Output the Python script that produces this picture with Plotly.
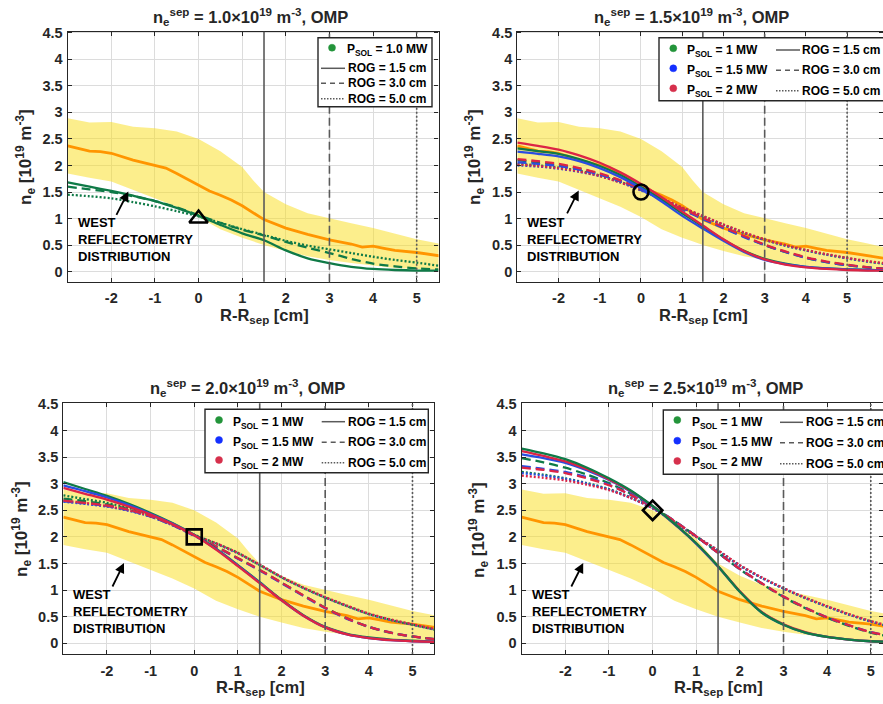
import plotly.graph_objects as go

W, H = 883, 704
FONT = "Liberation Sans, Arial, Helvetica, sans-serif"
DARK = "#262626"

# ---------------- data ----------------
# WEST reflectometry distribution (same in every panel)
X_REF = [-3, -2.5, -2, -1.5, -1, -0.5, 0, 0.5, 1, 1.25, 1.5, 2, 2.5, 3, 3.5, 4, 4.5, 5, 5.5, 6]
BAND_UP = [2.89, 2.81, 2.82, 2.73, 2.70, 2.64, 2.50, 2.27, 1.97, 1.72, 1.50, 1.27, 1.10, 1.00, 0.91, 0.82, 0.72, 0.61, 0.53, 0.44]
BAND_LO = [1.85, 1.77, 1.70, 1.55, 1.38, 1.22, 1.03, 0.80, 0.64, 0.57, 0.50, 0.39, 0.29, 0.22, 0.16, 0.11, 0.07, 0.05, 0.03, 0.02]
X_MED = [-3, -2.5, -2.25, -2, -1.5, -1, -0.75, -0.5, 0, 0.25, 0.5, 0.75, 1, 1.5, 2, 2.5, 3, 3.5, 3.75, 4, 4.25, 4.5, 5, 5.5, 6]
MEDIAN = [2.37, 2.27, 2.26, 2.23, 2.10, 2.00, 1.95, 1.85, 1.63, 1.52, 1.44, 1.35, 1.24, 0.98, 0.82, 0.70, 0.60, 0.52, 0.46, 0.48, 0.44, 0.40, 0.36, 0.30, 0.24]

X_SIM = [-3, -2.5, -2, -1.5, -1, -0.5, 0, 0.5, 1, 1.5, 2, 2.5, 3, 3.5, 4, 4.5, 5, 5.5, 6]

# panel 1: n_sep = 1.0e19, P_SOL = 1.0 MW
P1_G_ROG15 = [1.68, 1.60, 1.52, 1.43, 1.33, 1.20, 1.05, 0.88, 0.72, 0.59, 0.40, 0.25, 0.16, 0.09, 0.05, 0.03, 0.02, 0.02]
P1_G_ROG30 = [1.60, 1.55, 1.50, 1.42, 1.33, 1.21, 1.06, 0.92, 0.79, 0.68, 0.56, 0.45, 0.35, 0.24, 0.15, 0.10, 0.06, 0.04]
P1_G_ROG50 = [1.45, 1.42, 1.38, 1.31, 1.23, 1.14, 1.04, 0.92, 0.80, 0.69, 0.58, 0.49, 0.42, 0.35, 0.28, 0.22, 0.17, 0.11]

# panel 2: n_sep = 1.5e19
P2_G_ROG15 = [2.32, 2.27, 2.22, 2.12, 1.99, 1.82, 1.60, 1.36, 1.10, 0.85, 0.60, 0.39, 0.24, 0.15, 0.09, 0.06, 0.04, 0.03, 0.03]
P2_B_ROG15 = [2.26, 2.22, 2.17, 2.08, 1.95, 1.78, 1.57, 1.32, 1.05, 0.81, 0.58, 0.37, 0.22, 0.14, 0.09, 0.06, 0.04, 0.03, 0.03]
P2_R_ROG15 = [2.43, 2.37, 2.30, 2.19, 2.05, 1.87, 1.65, 1.40, 1.13, 0.87, 0.61, 0.39, 0.23, 0.13, 0.08, 0.05, 0.03, 0.02, 0.02]
P2_G_ROG30 = [2.10, 2.06, 2.01, 1.94, 1.84, 1.71, 1.55, 1.37, 1.18, 1.00, 0.83, 0.66, 0.50, 0.37, 0.26, 0.18, 0.12, 0.08, 0.05]
P2_B_ROG30 = [2.06, 2.03, 1.99, 1.92, 1.83, 1.70, 1.54, 1.36, 1.17, 0.99, 0.82, 0.65, 0.50, 0.37, 0.26, 0.18, 0.12, 0.08, 0.05]
P2_R_ROG30 = [2.12, 2.08, 2.03, 1.95, 1.85, 1.72, 1.56, 1.38, 1.19, 1.01, 0.84, 0.67, 0.51, 0.38, 0.27, 0.19, 0.13, 0.08, 0.05]
P2_G_ROG50 = [2.03, 2.00, 1.96, 1.90, 1.81, 1.69, 1.54, 1.37, 1.20, 1.04, 0.88, 0.73, 0.60, 0.49, 0.40, 0.32, 0.25, 0.19, 0.14]
P2_B_ROG50 = [2.00, 1.98, 1.94, 1.88, 1.80, 1.68, 1.53, 1.37, 1.20, 1.04, 0.88, 0.73, 0.60, 0.49, 0.40, 0.32, 0.25, 0.19, 0.14]
P2_R_ROG50 = [2.02, 1.99, 1.95, 1.89, 1.80, 1.68, 1.54, 1.38, 1.21, 1.05, 0.89, 0.74, 0.61, 0.50, 0.41, 0.33, 0.26, 0.20, 0.15]

# panel 3: n_sep = 2.0e19
P3_G_ROG15 = [3.03, 2.90, 2.77, 2.62, 2.45, 2.26, 2.04, 1.78, 1.47, 1.15, 0.82, 0.53, 0.31, 0.18, 0.11, 0.07, 0.05, 0.03]
P3_B_ROG15 = [2.97, 2.86, 2.74, 2.60, 2.43, 2.25, 2.03, 1.77, 1.46, 1.14, 0.81, 0.52, 0.30, 0.17, 0.10, 0.06, 0.04, 0.03]
P3_R_ROG15 = [2.92, 2.81, 2.70, 2.57, 2.42, 2.24, 2.03, 1.76, 1.45, 1.13, 0.81, 0.52, 0.30, 0.17, 0.10, 0.06, 0.04, 0.03]
P3_G_ROG30 = [2.72, 2.67, 2.61, 2.52, 2.39, 2.23, 2.03, 1.82, 1.60, 1.38, 1.14, 0.90, 0.67, 0.47, 0.31, 0.20, 0.13, 0.08]
P3_B_ROG30 = [2.67, 2.63, 2.58, 2.50, 2.38, 2.22, 2.02, 1.81, 1.59, 1.37, 1.13, 0.89, 0.66, 0.46, 0.31, 0.20, 0.13, 0.08]
P3_R_ROG30 = [2.68, 2.64, 2.59, 2.51, 2.39, 2.23, 2.03, 1.82, 1.60, 1.38, 1.14, 0.90, 0.67, 0.47, 0.31, 0.20, 0.13, 0.08]
P3_G_ROG50 = [2.78, 2.71, 2.64, 2.54, 2.41, 2.24, 2.04, 1.88, 1.70, 1.47, 1.24, 1.04, 0.86, 0.70, 0.55, 0.44, 0.35, 0.26]
P3_B_ROG50 = [2.66, 2.62, 2.57, 2.49, 2.38, 2.22, 2.03, 1.87, 1.69, 1.47, 1.24, 1.04, 0.86, 0.70, 0.55, 0.44, 0.35, 0.26]
P3_R_ROG50 = [2.68, 2.64, 2.58, 2.50, 2.39, 2.23, 2.03, 1.88, 1.70, 1.48, 1.25, 1.05, 0.87, 0.71, 0.56, 0.45, 0.36, 0.27]

# panel 4: n_sep = 2.5e19
P4_G_ROG15 = [3.66, 3.57, 3.46, 3.30, 3.10, 2.87, 2.58, 2.25, 1.88, 1.45, 0.97, 0.58, 0.35, 0.20, 0.12, 0.07, 0.04, 0.03]
P4_B_ROG15 = [3.55, 3.48, 3.39, 3.25, 3.07, 2.85, 2.57, 2.24, 1.87, 1.44, 0.97, 0.58, 0.35, 0.20, 0.12, 0.07, 0.04, 0.03]
P4_R_ROG15 = [3.61, 3.52, 3.42, 3.27, 3.08, 2.86, 2.58, 2.25, 1.88, 1.45, 0.98, 0.59, 0.36, 0.21, 0.12, 0.07, 0.04, 0.03]
P4_G_ROG30 = [3.48, 3.40, 3.30, 3.17, 3.01, 2.81, 2.57, 2.30, 2.01, 1.70, 1.39, 1.12, 0.87, 0.66, 0.48, 0.33, 0.20, 0.12]
P4_B_ROG30 = [3.33, 3.28, 3.22, 3.12, 2.98, 2.79, 2.56, 2.30, 2.01, 1.70, 1.40, 1.13, 0.88, 0.67, 0.49, 0.34, 0.21, 0.13]
P4_R_ROG30 = [3.30, 3.26, 3.20, 3.10, 2.97, 2.79, 2.56, 2.30, 2.01, 1.70, 1.40, 1.13, 0.88, 0.67, 0.49, 0.34, 0.21, 0.13]
P4_G_ROG50 = [3.22, 3.17, 3.10, 3.01, 2.90, 2.74, 2.54, 2.28, 2.00, 1.74, 1.46, 1.23, 1.03, 0.85, 0.69, 0.54, 0.41, 0.30]
P4_B_ROG50 = [3.20, 3.15, 3.09, 3.00, 2.89, 2.73, 2.54, 2.28, 2.00, 1.74, 1.46, 1.23, 1.03, 0.85, 0.69, 0.54, 0.41, 0.30]
P4_R_ROG50 = [3.15, 3.11, 3.06, 2.98, 2.88, 2.73, 2.54, 2.29, 2.01, 1.75, 1.47, 1.24, 1.04, 0.86, 0.70, 0.55, 0.42, 0.31]

NSEP = [1.0, 1.5, 2.0, 2.5]
NSEP_LABELS = ["1.0", "1.5", "2.0", "2.5"]
ROG_CM = [1.5, 3.0, 5.0]
ROG_LABELS = ["ROG = 1.5 cm", "ROG = 3.0 cm", "ROG = 5.0 cm"]
PSOL_LABELS_P1 = ["1.0 MW"]
PSOL_LABELS = ["1 MW", "1.5 MW", "2 MW"]
X_TICKS = [-2, -1, 0, 1, 2, 3, 4, 5]
X_TICK_TEXT = ["-2", "-1", "0", "1", "2", "3", "4", "5"]

# ---------------- styles ----------------
LINE_COL = {"g": "#0f7a47", "b": "#2a4de0", "r": "#dc2445"}
DOT_COL = {"g": "#23943a", "b": "#1430ff", "r": "#d6304c"}
ROG_DASH = ["solid", "9px,5px", "2px,2px"]
VLINE_DASH = ["solid", "8px,4px", "2px,2px"]
BAND_COL = "rgba(249,221,25,0.5)"
ORANGE = "#ff9500"


def px_x(p):
    return p / W


def px_y(p):
    return 1 - p / H


panels = [
    dict(dom_px=(67.7, 438.5, 31.7, 281.7), xr=[-3, 5.5], yr=[-0.19, 4.52],
         curves=[("g", 2, P1_G_ROG50), ("g", 1, P1_G_ROG30), ("g", 0, P1_G_ROG15)],
         symbol="triangle-up-open",
         title_px=(251, 16), xt_px=(264, 316), yt_px=(25, 157),
         arrow=(-1.61, 1.51, -1.9, 1.04)),
    dict(dom_px=(517.3, 883, 31.7, 281.7), xr=[-3, 5.87], yr=[-0.19, 4.52],
         curves=[("g", 2, P2_G_ROG50), ("b", 2, P2_B_ROG50), ("r", 2, P2_R_ROG50),
                 ("g", 1, P2_G_ROG30), ("b", 1, P2_B_ROG30), ("r", 1, P2_R_ROG30),
                 ("g", 0, P2_G_ROG15), ("b", 0, P2_B_ROG15), ("r", 0, P2_R_ROG15)],
         symbol="circle-open",
         title_px=(691, 16), xt_px=(703, 316), yt_px=(474, 157),
         arrow=(-1.51, 1.53, -1.81, 1.07)),
    dict(dom_px=(63.3, 434.3, 403.3, 654), xr=[-3, 5.5], yr=[-0.2, 4.51],
         curves=[("g", 2, P3_G_ROG50), ("b", 2, P3_B_ROG50), ("r", 2, P3_R_ROG50),
                 ("g", 1, P3_G_ROG30), ("b", 1, P3_B_ROG30), ("r", 1, P3_R_ROG30),
                 ("g", 0, P3_G_ROG15), ("b", 0, P3_B_ROG15), ("r", 0, P3_R_ROG15)],
         symbol="square-open",
         title_px=(247, 387), xt_px=(260, 688), yt_px=(21, 529),
         arrow=(-1.61, 1.51, -1.89, 1.04)),
    dict(dom_px=(521.7, 883, 403.3, 654), xr=[-3, 5.28], yr=[-0.2, 4.51],
         curves=[("g", 2, P4_G_ROG50), ("b", 2, P4_B_ROG50), ("r", 2, P4_R_ROG50),
                 ("g", 1, P4_G_ROG30), ("b", 1, P4_B_ROG30), ("r", 1, P4_R_ROG30),
                 ("b", 0, P4_B_ROG15), ("r", 0, P4_R_ROG15), ("g", 0, P4_G_ROG15)],
         symbol="diamond-open",
         title_px=(705, 387), xt_px=(718, 688), yt_px=(478, 530),
         arrow=(-1.59, 1.51, -1.88, 1.04)),
]

fig = go.Figure()
shapes = []
annotations = []
layout_axes = {}

for i, p in enumerate(panels):
    k = "" if i == 0 else str(i + 1)
    xa, ya = "x" + k, "y" + k
    x0, x1, y0, y1 = p["dom_px"]
    common = dict(showline=True, linecolor=DARK, linewidth=1.3, mirror="ticks",
                  ticks="inside", ticklen=4, tickwidth=1, tickcolor=DARK,
                  showgrid=True, gridcolor="#dcdcdc", gridwidth=1, zeroline=False,
                  automargin=False,
                  tickfont=dict(family=FONT, size=14.5, color=DARK, weight="bold"))
    layout_axes["xaxis" + k] = dict(domain=[px_x(x0), px_x(x1)], range=p["xr"], anchor=ya,
                                    tickvals=X_TICKS, ticktext=X_TICK_TEXT,
                                    ticklabelstandoff=3, **common)
    layout_axes["yaxis" + k] = dict(domain=[px_y(y1), px_y(y0)], range=p["yr"], anchor=xa,
                                    tick0=0, dtick=0.5, ticklabelstandoff=1, **common)

    # reflectometry band
    fig.add_trace(go.Scatter(x=X_REF + X_REF[::-1], y=BAND_UP + BAND_LO[::-1], fill="toself",
                             fillcolor=BAND_COL, line=dict(width=0), mode="lines",
                             hoverinfo="skip", showlegend=False, xaxis=xa, yaxis=ya))
    fig.add_trace(go.Scatter(x=X_MED, y=MEDIAN, mode="lines", line=dict(color=ORANGE, width=2.8),
                             showlegend=False, xaxis=xa, yaxis=ya))
    # simulated profiles
    for col, r, vals in p["curves"]:
        fig.add_trace(go.Scatter(x=X_SIM[:len(vals)], y=vals, mode="lines",
                                 line=dict(color=LINE_COL[col], width=2.3, dash=ROG_DASH[r],
                                           shape="spline", smoothing=0.8),
                                 showlegend=False, xaxis=xa, yaxis=ya))
    # separatrix marker
    fig.add_trace(go.Scatter(x=[0], y=[NSEP[i]], mode="markers",
                             marker=dict(symbol=p["symbol"], size=15 if i != 0 else 16,
                                         color="black", line=dict(width=2.6, color="black")),
                             showlegend=False, xaxis=xa, yaxis=ya))
    # ROG vertical lines
    for r, xv in enumerate(ROG_CM):
        shapes.append(dict(type="line", xref=xa, yref=ya + " domain", x0=xv, x1=xv, y0=0, y1=1,
                           line=dict(color="#5a5a5a", width=1.6, dash=VLINE_DASH[r]), layer="above"))

    # title
    tx, ty = p["title_px"]
    annotations.append(dict(xref="paper", yref="paper", x=px_x(tx), y=px_y(ty + 1), showarrow=False,
                            xanchor="center", yanchor="middle",
                            text=f"n<sub>e</sub><sup>sep</sup> = {NSEP_LABELS[i]}×10<sup>19</sup> m<sup>-3</sup>, OMP",
                            font=dict(family=FONT, size=16.5, color=DARK, weight="bold")))
    # axis titles
    xx, xy = p["xt_px"]
    annotations.append(dict(xref="paper", yref="paper", x=px_x(xx), y=px_y(xy), showarrow=False,
                            xanchor="center", yanchor="middle", text="R-R<sub>sep</sub> [cm]",
                            font=dict(family=FONT, size=16.5, color=DARK, weight="bold")))
    yx, yy = p["yt_px"]
    annotations.append(dict(xref="paper", yref="paper", x=px_x(yx), y=px_y(yy), showarrow=False,
                            xanchor="center", yanchor="middle", textangle=-90,
                            text="n<sub>e</sub> [10<sup>19</sup> m<sup>-3</sup>]",
                            font=dict(family=FONT, size=17, color=DARK, weight="bold")))
    # WEST reflectometry annotation
    annotations.append(dict(xref=xa, yref=ya, x=-2.82, y=0.60, showarrow=False,
                            xanchor="left", yanchor="middle", align="left",
                            text="WEST<br>REFLECTOMETRY<br>DISTRIBUTION",
                            font=dict(family=FONT, size=13, color="black", weight="bold")))
    hx, hy, tx0, ty0 = p["arrow"]
    annotations.append(dict(xref=xa, yref=ya, x=hx, y=hy, axref=xa, ayref=ya, ax=tx0, ay=ty0,
                            text="", showarrow=True, arrowhead=2, arrowsize=1.1, arrowwidth=1.8,
                            arrowcolor="black", standoff=0, startstandoff=0))

# ---------------- legends (drawn in paper space) ----------------
LEG_FONT = dict(family=FONT, size=12, color="black", weight="bold")


def leg_box(x0, y0, x1, y1):
    shapes.append(dict(type="rect", xref="paper", yref="paper", x0=px_x(x0), x1=px_x(x1),
                       y0=px_y(y1), y1=px_y(y0), line=dict(color=DARK, width=1.4),
                       fillcolor="white", layer="above"))


def leg_dot(cx, cy, col, label, tx):
    rad = 3.5
    shapes.append(dict(type="circle", xref="paper", yref="paper", x0=px_x(cx - rad), x1=px_x(cx + rad),
                       y0=px_y(cy + rad), y1=px_y(cy - rad), fillcolor=DOT_COL[col],
                       line=dict(color=DOT_COL[col], width=0.5), layer="above"))
    annotations.append(dict(xref="paper", yref="paper", x=px_x(tx), y=px_y(cy + 2.5), showarrow=False,
                            xanchor="left", yanchor="middle",
                            text=f"P<sub>SOL</sub> = {label}", font=LEG_FONT))


def leg_line(lx0, lx1, cy, r, tx):
    shapes.append(dict(type="line", xref="paper", yref="paper", x0=px_x(lx0), x1=px_x(lx1),
                       y0=px_y(cy), y1=px_y(cy), line=dict(color="#5a5a5a", width=1.5,
                                                          dash=["solid", "5px,4px", "1.5px,1.5px"][r]),
                       layer="above"))
    annotations.append(dict(xref="paper", yref="paper", x=px_x(tx), y=px_y(cy), showarrow=False,
                            xanchor="left", yanchor="middle", text=ROG_LABELS[r], font=LEG_FONT))


# panel 1 legend (single column)
leg_box(318, 37.7, 432, 106.7)
leg_dot(332, 47.7, "g", PSOL_LABELS_P1[0], 345)
for r, cy in enumerate([68.3, 83.3, 98.7]):
    leg_line(321, 345, cy, r, 346)

# panel 2 legend
leg_box(659, 37.7, 895, 100.7)
for j, (c, cy) in enumerate(zip("gbr", [48.3, 68.3, 88.3])):
    leg_dot(673.3, cy, c, PSOL_LABELS[j], 685)
for r, cy in enumerate([50, 70.3, 90.7]):
    leg_line(776, 800, cy, r, 800)

# panel 3 legend
leg_box(205, 409.3, 428.3, 472.7)
for j, (c, cy) in enumerate(zip("gbr", [420, 440, 460])):
    leg_dot(219, cy, c, PSOL_LABELS[j], 231)
for r, cy in enumerate([421.7, 442.3, 462.7]):
    leg_line(321.7, 345, cy, r, 346)

# panel 4 legend
leg_box(663.3, 410, 895, 474.3)
for j, (c, cy) in enumerate(zip("gbr", [420, 440.7, 461])):
    leg_dot(677.3, cy, c, PSOL_LABELS[j], 689.5)
for r, cy in enumerate([422.3, 442.7, 463.7]):
    leg_line(780, 803, cy, r, 804)

fig.update_layout(width=W, height=H, margin=dict(l=0, r=0, t=0, b=0),
                  paper_bgcolor="white", plot_bgcolor="white", showlegend=False,
                  shapes=shapes, annotations=annotations, **layout_axes)

fig.write_html("out.html", config={"displayModeBar": False},
               post_script="document.body.style.margin='0px';document.body.style.overflow='hidden';")
